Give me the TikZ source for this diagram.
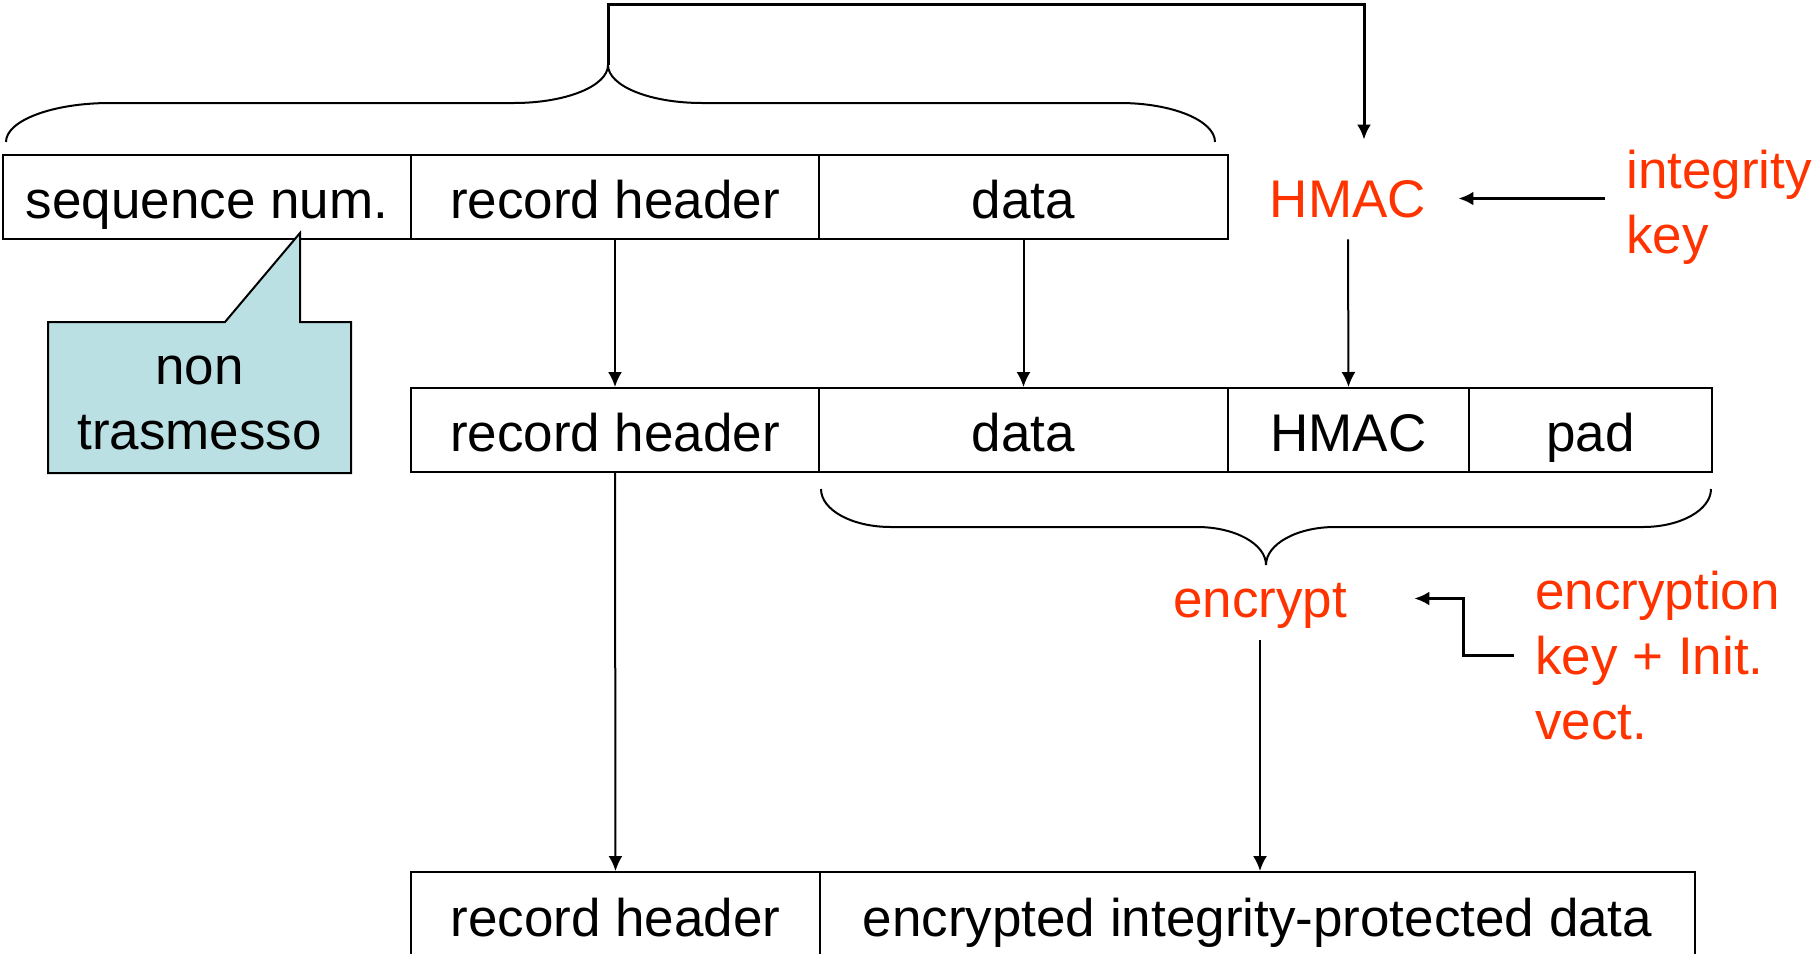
\documentclass[tikz,border=0pt]{standalone}
\usepackage{fontspec}
\setmainfont{Liberation Sans}
\usetikzlibrary{arrows.meta,calc}
\definecolor{keyred}{HTML}{FF3300}
\definecolor{callfill}{HTML}{BBE0E3}
\begin{document}
\begin{tikzpicture}[x=0.5pt,y=-0.5pt,
  font=\fontsize{26.5}{32.5}\selectfont,
  cell/.style={draw, line width=1pt, inner sep=0pt, minimum height=42pt,
    text height=21pt, text depth=0pt, anchor=center},
  arr/.style={-{Latex[length=7.5pt,width=7pt]}, line width=1pt},
  redtxt/.style={text=keyred, inner sep=0pt},
  bracepath/.style={line width=1pt}]
\useasboundingbox (0,0) rectangle (1812,954);

% row 1
\node[cell, minimum width=204pt] (seq) at (207,197) {sequence num.};
\node[cell, minimum width=204pt] (rh1) at (615,197) {record header};
\node[cell, minimum width=204.5pt] (data1) at (1023.5,197) {data};
% row 2
\node[cell, minimum width=204pt] (rh2) at (615,430) {record header};
\node[cell, minimum width=204.5pt] (data2) at (1023.5,430) {data};
\node[cell, minimum width=120.5pt] (hmac2) at (1348.5,430) {HMAC};
\node[cell, minimum width=121.5pt] (pad) at (1590.5,430) {pad};
% row 3
\node[cell, minimum width=204.5pt, minimum height=43pt] (rh3) at (615.5,915) {record header};
\node[cell, minimum width=437.5pt, minimum height=43pt] (enc3) at (1257.5,915) {encrypted integrity-protected data};

% red labels
\node[redtxt, text height=19pt, text depth=0pt, minimum height=40.5pt] (hmac1) at (1348,198.5) {HMAC};
\node[redtxt, align=left, anchor=north west] (intkey) at (1626,150) {integrity\\key};
\node[redtxt, text height=19pt, text depth=0pt, minimum height=41.5pt] (encrypt) at (1260,598.5) {encrypt};
\node[redtxt, align=left, anchor=north west] (enckey) at (1535,571) {encryption\\key + Init.\\vect.};

% callout
\fill[callfill] (48,322) -- (225,322) -- (300,233) -- (300,322) -- (351,322) -- (351,473) -- (48,473) -- cycle;
\draw[line width=1pt] (48,322) -- (225,322) -- (300,233) -- (300,322) -- (351,322) -- (351,473) -- (48,473) -- cycle;
\node[align=center, anchor=north, inner sep=0pt] (nontx) at (199.5,356) {non\\trasmesso};

% braces
\draw[bracepath] (6,142) .. controls (6,120.5) and (52.6,103) .. (110,103)
  -- (514,103) .. controls (566,103) and (608,86) .. (608,65)
  .. controls (608,86) and (650,103) .. (702,103)
  -- (1120,103) .. controls (1172,103) and (1215,120.5) .. (1215,142);
\coordinate (tb) at (608,65);
\draw[bracepath] (821,489) .. controls (821,510) and (852,527) .. (891,527)
  -- (1197,527) .. controls (1235,527) and (1266,544) .. (1266,565)
  .. controls (1266,544) and (1297,527) .. (1335,527)
  -- (1643,527) .. controls (1680.5,527) and (1711,510) .. (1711,489);
\coordinate (bb) at (1266,565);

% connectors
\draw[arr, line width=1.5pt, shorten >=9pt] (tb) -- (608,4) -| ([xshift=8pt]hmac1.north);
\draw[arr, line width=1.5pt, shorten <=10.5pt, shorten >=16pt] (intkey.west |- hmac1.center) -- (hmac1.east);
\draw[arr] (hmac1.south) -- (hmac2.north);
\draw[arr] (rh1.south) -- (rh2.north);
\draw[arr] (data1.south) -- (data2.north);
\draw[arr] (rh2.south) -- (rh3.north);
\draw[arr] (encrypt.south) -- (encrypt.south |- enc3.north);
\draw[arr, line width=1.5pt, shorten <=10.5pt, shorten >=33.5pt] (enckey.west) -- ++(-72,0) |- (encrypt.east);
\end{tikzpicture}
\end{document}
